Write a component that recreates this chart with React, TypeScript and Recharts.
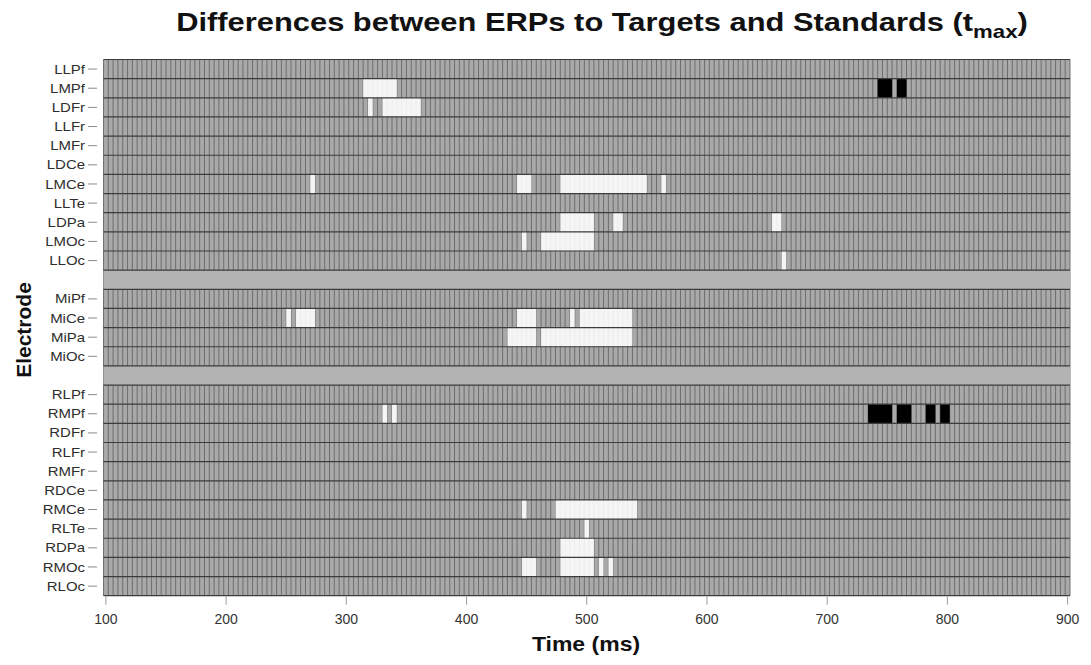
import { ComposedChart, Bar, Cell, XAxis, YAxis, CartesianGrid, ReferenceArea, ReferenceLine } from 'recharts'

const leftElectrodes = ['LLPf', 'LMPf', 'LDFr', 'LLFr', 'LMFr', 'LDCe', 'LMCe', 'LLTe', 'LDPa', 'LMOc', 'LLOc']
const midElectrodes = ['MiPf', 'MiCe', 'MiPa', 'MiOc']
const rightElectrodes = ['RLPf', 'RMPf', 'RDFr', 'RLFr', 'RMFr', 'RDCe', 'RMCe', 'RLTe', 'RDPa', 'RMOc', 'RLOc']

const timeTicks = [100, 200, 300, 400, 500, 600, 700, 800, 900]
const timeDomain: [number, number] = [98, 902]
const binWidth = 4

// [electrode, start ms, end ms] -- targets > standards (white)
const targetsLarger: [string, number, number][] = [
  ['LMPf', 314, 342],
  ['LDFr', 318, 322],
  ['LDFr', 330, 362],
  ['LMCe', 270, 274],
  ['LMCe', 442, 454],
  ['LMCe', 478, 550],
  ['LMCe', 562, 566],
  ['LDPa', 478, 506],
  ['LDPa', 522, 530],
  ['LDPa', 654, 662],
  ['LMOc', 446, 450],
  ['LMOc', 462, 506],
  ['LLOc', 662, 666],
  ['MiCe', 250, 254],
  ['MiCe', 258, 274],
  ['MiCe', 442, 458],
  ['MiCe', 486, 490],
  ['MiCe', 494, 538],
  ['MiPa', 434, 458],
  ['MiPa', 462, 538],
  ['RMPf', 330, 334],
  ['RMPf', 338, 342],
  ['RMCe', 446, 450],
  ['RMCe', 474, 542],
  ['RLTe', 498, 502],
  ['RDPa', 478, 506],
  ['RMOc', 446, 458],
  ['RMOc', 478, 506],
  ['RMOc', 510, 514],
  ['RMOc', 518, 522],
]

// standards > targets (black)
const standardsLarger: [string, number, number][] = [
  ['LMPf', 742, 754],
  ['LMPf', 758, 766],
  ['RMPf', 734, 754],
  ['RMPf', 758, 770],
  ['RMPf', 782, 790],
  ['RMPf', 794, 802],
]

// rows top to bottom, null = spacer band
const rows: (string | null)[] = [...leftElectrodes, null, ...midElectrodes, null, ...rightElectrodes]
const rowIndex = (name: string) => rows.indexOf(name)
const rowCenters = rows.map((r, i) => (r ? i + 0.5 : -1)).filter((v) => v >= 0)
const rowEdges = rows.map((_, i) => i).concat(rows.length)
const gapRows = rows.map((r, i) => (r ? -1 : i)).filter((v) => v >= 0)
const binEdges = Array.from(
  { length: (timeDomain[1] - timeDomain[0]) / binWidth + 1 },
  (_, i) => timeDomain[0] + i * binWidth,
)

const cells = [
  ...targetsLarger.map(([name, t0, t1]) => ({ row: rowIndex(name) + 0.5, span: [t0, t1], color: '#ffffff' })),
  ...standardsLarger.map(([name, t0, t1]) => ({ row: rowIndex(name) + 0.5, span: [t0, t1], color: '#000000' })),
]

const FONT = '"Liberation Sans", Arial, Helvetica, sans-serif'

function RowTick({ x, y, payload }: any) {
  const name = rows[Math.floor(payload.value)]
  return (
    <g transform={`translate(${x},${y})`}>
      <line x1={-15.5} x2={-6.5} y1={0} y2={0} stroke="#8a8a8a" />
      <text
        transform="translate(-18.5,0) scale(1.15,1)"
        textAnchor="end"
        dy="0.35em"
        fontSize={13}
        fontFamily={FONT}
        fill="#2e2e2e"
      >
        {name}
      </text>
    </g>
  )
}

export default function App() {
  return (
    <div style={{ position: 'absolute', left: 0, top: 0, background: '#fff' }}>
      <ComposedChart
        width={1091}
        height={665}
        layout="vertical"
        data={cells}
        barCategoryGap={0}
        barGap={0}
        margin={{ top: 59.5, right: 21, bottom: 19.3, left: 43.5 }}
      >
        <XAxis
          xAxisId="time"
          type="number"
          domain={timeDomain}
          ticks={timeTicks}
          interval={0}
          height={50}
          axisLine={false}
          tickSize={9}
          tickMargin={9}
          tickLine={{ stroke: '#9a9a9a' }}
          tick={{ fontSize: 14, fontFamily: FONT, fill: '#333' }}
          allowDataOverflow
        />
        <XAxis
          xAxisId="bins"
          type="number"
          domain={timeDomain}
          ticks={binEdges}
          interval={0}
          height={0}
          hide
          allowDataOverflow
        />
        <YAxis
          yAxisId="rows"
          type="number"
          dataKey="row"
          domain={[0, rows.length]}
          ticks={rowCenters}
          interval={0}
          width={60}
          axisLine={false}
          tickLine={false}
          tickSize={0}
          tickMargin={0}
          tick={<RowTick />}
          allowDataOverflow
        />
        <CartesianGrid
          xAxisId="bins"
          yAxisId="rows"
          horizontal={false}
          fill="#a9a9a9"
          fillOpacity={1}
          stroke="#666"
          strokeWidth={0.9}
        />
        {gapRows.map((r) => (
          <ReferenceArea
            key={`gap-${r}`}
            xAxisId="time"
            yAxisId="rows"
            x1={timeDomain[0]}
            x2={timeDomain[1]}
            y1={r}
            y2={r + 1}
            fill="#b3b3b3"
            fillOpacity={1}
            stroke="none"
          />
        ))}
        <Bar dataKey="span" xAxisId="time" yAxisId="rows" isAnimationActive={false}>
          {cells.map((c, i) => (
            <Cell key={i} fill={c.color} fillOpacity={c.color === '#000000' ? 1 : 0.88} />
          ))}
        </Bar>
        {rowEdges.map((v) => (
          <ReferenceLine key={`edge-${v}`} xAxisId="time" yAxisId="rows" y={v} stroke="#3c3c3c" strokeWidth={1.2} />
        ))}
        <text
          transform="translate(602,31) scale(1.235,1)"
          textAnchor="middle"
          fontSize={25}
          fontWeight="bold"
          fontFamily={FONT}
          fill="#111"
        >
          Differences between ERPs to Targets and Standards (t
          <tspan fontSize={18} dy={7}>
            max
          </tspan>
          <tspan dy={-7}>)</tspan>
        </text>
        <text
          transform="translate(31,330) rotate(-90) scale(1.05,1)"
          textAnchor="middle"
          fontSize={20}
          fontWeight="bold"
          fontFamily={FONT}
          fill="#111"
        >
          Electrode
        </text>
        <text
          transform="translate(586,651) scale(1.15,1)"
          textAnchor="middle"
          fontSize={20}
          fontWeight="bold"
          fontFamily={FONT}
          fill="#111"
        >
          Time (ms)
        </text>
      </ComposedChart>
    </div>
  )
}
